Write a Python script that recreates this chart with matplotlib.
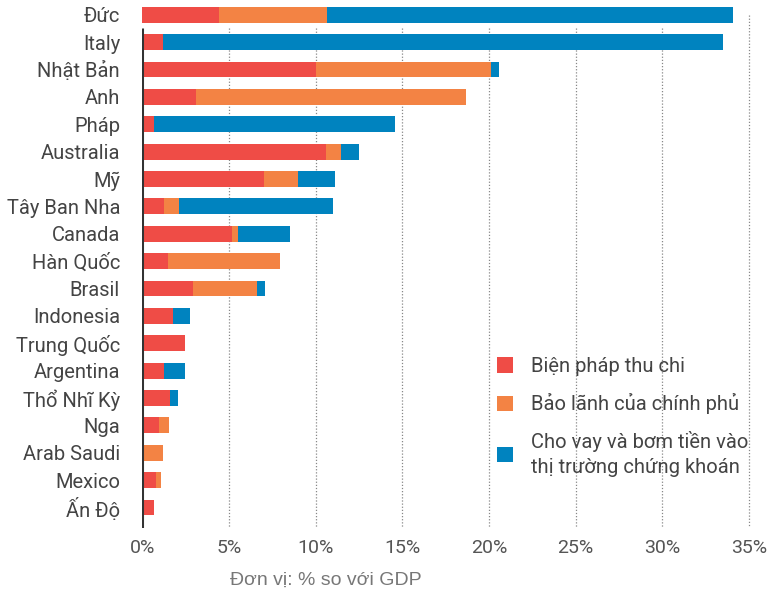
import numpy as np
import matplotlib
matplotlib.use('Agg')
import matplotlib.pyplot as plt
from matplotlib.patches import Patch

countries = ['Đức', 'Italy', 'Nhật Bản', 'Anh', 'Pháp', 'Australia', 'Mỹ', 'Tây Ban Nha',
             'Canada', 'Hàn Quốc', 'Brasil', 'Indonesia', 'Trung Quốc', 'Argentina',
             'Thổ Nhĩ Kỳ', 'Nga', 'Arab Saudi', 'Mexico', 'Ấn Độ']

# % so voi GDP
thu_chi = [4.4, 1.2, 10.0, 3.1, 0.7, 10.6, 7.0, 1.25, 5.15, 1.5, 2.9, 1.75, 2.45, 1.25, 1.6, 0.95, 0.0, 0.8, 0.7]
bao_lanh = [6.25, 0.0, 10.1, 15.6, 0.0, 0.85, 2.0, 0.87, 0.35, 6.45, 3.7, 0.0, 0.0, 0.0, 0.0, 0.6, 1.2, 0.3, 0.0]
cho_vay = [23.4, 32.3, 0.45, 0.0, 13.9, 1.05, 2.1, 8.9, 3.0, 0.0, 0.45, 1.0, 0.0, 1.2, 0.45, 0.0, 0.0, 0.0, 0.0]

series_labels = ['Biện pháp thu chi', 'Bảo lãnh của chính phủ',
                 'Cho vay và bơm tiền vào\nthị trường chứng khoán']
colors = ['#EF4C46', '#F38344', '#0083BF']
ticks = [0, 5, 10, 15, 20, 25, 30, 35]

plt.rcParams['font.family'] = ['Roboto', 'DejaVu Sans']

fig = plt.figure(figsize=(7.7, 5.96), dpi=100)
ax = fig.add_axes([142.3 / 770, 1 - 528 / 596, 624 / 770, 527 / 596])

y = np.arange(len(countries))
left = np.zeros(len(countries))
for vals, c in zip([thu_chi, bao_lanh, cho_vay], colors):
    vals = np.array(vals)
    ax.barh(y, vals, left=left, height=0.58, color=c, zorder=3)
    left += vals

# dotted grid
for t in ticks[1:]:
    top = 0.0 if t == 35 else 0.5
    ax.vlines(t, top, 18.75, colors='#888888', linestyles=(0, (1, 1.5)), linewidth=0.9, zorder=1)
ax.vlines(0, 0.5, 18.75, colors='#333333', linewidth=2.2, zorder=4)

ax.set_xlim(0, 36)
ax.set_ylim(18.75, -0.5)
ax.set_yticks(y)
ax.set_yticklabels(countries, fontsize=14.5, color='#444444')
ax.set_xticks(ticks)
ax.set_xticklabels([f'{t}%' for t in ticks], fontsize=14, color='#555555')
ax.tick_params(axis='y', length=0, pad=16)
ax.tick_params(axis='x', length=0, pad=8)
for s in ax.spines.values():
    s.set_visible(False)

handles = [Patch(facecolor=c, edgecolor='none') for c in colors]
leg = ax.legend(handles, series_labels, loc='lower left', bbox_to_anchor=(0.54, 0.063),
                frameon=False, fontsize=14.5, handlelength=0.8, handleheight=0.8,
                handletextpad=0.85, labelspacing=0.85)
for txt in leg.get_texts():
    txt.set_color('#444444')
    txt.set_linespacing(1.35)

fig.text(326 / 770, 1 - 580 / 596, 'Đơn vị: % so với GDP', ha='center', va='center',
         fontsize=14, color='#777777', family=['Liberation Sans', 'DejaVu Sans'])

fig.savefig('out.png', dpi=100)
